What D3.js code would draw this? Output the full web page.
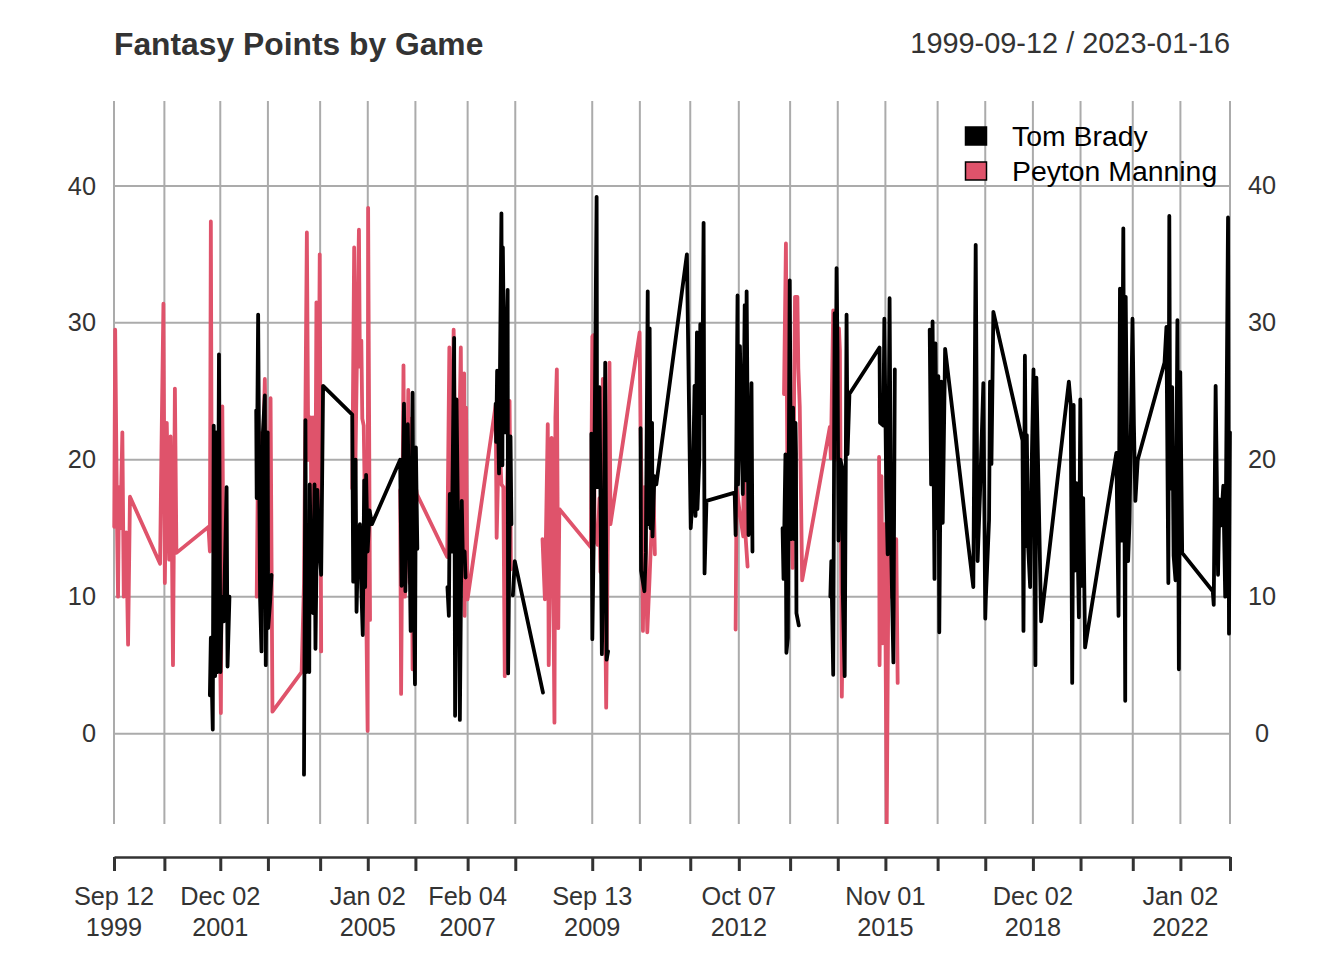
<!DOCTYPE html>
<html>
<head>
<meta charset="utf-8">
<script src="https://cdn.jsdelivr.net/npm/d3@7"></script>
<style>
  html, body { margin: 0; padding: 0; background: #fff; }
  svg { display: block; }
  text { font-family: "Liberation Sans", Arial, sans-serif; }
</style>
</head>
<body>
<div id="chart"></div>
<script>
// Game dates as decimal years, null value = gap in the line
const mannYears = [
  1999.70,1999.72,1999.76,1999.78,1999.80,1999.83,1999.87,1999.90,1999.95,1999.99,2000.03,
  2000.66,2000.69,2000.73,2000.76,2000.80,2000.85,2000.88,2000.91,2000.93,2000.97,2001.00,
  2001.67,2001.70,2001.72,2001.74,2001.79,2001.83,2001.87,2001.93,2001.96,2001.99,2002.00,
  2002.68,2002.70,2002.73,2002.77,2002.81,2002.85,2002.89,2002.94,2002.97,2003.01,
  2003.62,2003.67,2003.73,2003.76,2003.81,2003.83,2003.86,2003.90,2003.93,2003.96,2004.00,2004.03,2004.04,
  2004.68,2004.72,2004.74,2004.78,2004.82,2004.84,2004.87,2004.89,2004.92,2004.96,2005.00,2005.01,2005.05,2005.06,
  2005.68,2005.70,2005.75,2005.78,2005.81,2005.85,2005.88,2005.91,2005.94,2005.97,2006.03,
  2006.665,2006.71,2006.74,2006.80,2006.85,2006.90,2006.95,2006.98,2007.02,2007.03,2007.06,2007.09,
  2007.68,2007.70,2007.75,2007.80,2007.84,2007.87,2007.92,2007.97,2008.00,2008.01,
  2008.66,2008.71,2008.77,2008.79,2008.85,2008.88,2008.91,2008.93,2008.96,2008.99,2009.01,
  2009.67,2009.70,2009.72,2009.75,2009.81,2009.85,2009.87,2009.92,2009.99,2010.06,2010.08,
  2010.69,2010.71,2010.73,2010.76,2010.79,2010.85,2010.90,2010.94,2010.98,2011.01,2011.02,
  2012.70,2012.72,2012.79,2012.86,2012.87,2012.91,2012.95,2012.96,
  2013.71,2013.75,2013.79,2013.84,2013.89,2013.94,2013.99,2014.01,2014.04,2014.09,
  2014.67,2014.69,2014.74,2014.79,2014.86,2014.88,2014.92,2014.96,2014.97,
  2015.70,2015.71,2015.75,2015.77,2015.81,2015.83,2015.86,2015.90,2015.96,2016.06,2016.09
];
const mannPoints = [
  15.1,29.5,15,10,18,15,22,10,14.7,6.5,17.3,
  12.4,21,31.4,11,22.7,12.7,21.7,13,5,25.2,13.2,
  15.1,13.3,37.4,15,21,10,17,1.5,23.9,8.3,null,
  10,17.2,22,13,20,25.9,15,12,24.5,1.6,
  4.5,11,36.6,20,23.1,12,23.1,10,31.5,14,35,6,null,
  17.9,35.5,18,28,36.8,26.8,28.7,23,22.5,13,0.2,38.4,8.3,null,
  17.8,2.9,26.9,10,14,25.1,11,23,4.7,19,17.5,
  12.9,28.2,14,29.5,13,18,28.2,12,26.3,8.6,23.8,9.8,
  24,14.3,22,18.2,18,4.2,18,24.3,12,null,
  14.2,9.8,22.6,5,21.6,13,0.8,23.1,26.6,7.7,16.4,
  13.6,29,29.1,14.3,13.8,17.2,11.8,25.9,1.9,27.1,15.3,
  29.3,22.4,18,7.5,18,7.4,11.5,15,18,13.1,null,
  7.6,18,16,14.4,20.8,14.3,12.2,null,
  24.8,35.8,14,20,12.1,31.9,31.9,26.7,23.9,11.2,
  22.4,20.1,30.9,20,29.6,28,2.7,14,null,
  20.2,5,18.8,6.6,15.3,9.7,-6.6,14,10,14.2,3.7
];

const bradyYears = [
  2001.70,2001.72,2001.76,2001.78,2001.81,2001.83,2001.86,2001.89,2001.92,2001.95,2001.99,2002.05,2002.07,2002.11,2002.12,
  2002.67,2002.68,2002.71,2002.75,2002.78,2002.81,2002.85,2002.87,2002.91,2002.92,2002.96,2002.99,2003.00,
  2003.67,2003.70,2003.72,2003.75,2003.78,2003.79,2003.82,2003.86,2003.89,2003.91,2003.95,2003.99,2004.03,2004.07,
  2004.68,2004.70,2004.75,2004.77,2004.79,2004.84,2004.87,2004.90,2004.93,2004.95,2004.97,2005.00,2005.04,2005.09,
  2005.68,2005.71,2005.76,2005.79,2005.84,2005.90,2005.94,2005.96,2005.99,2006.01,2006.04,2006.05,
  2006.67,2006.70,2006.72,2006.76,2006.81,2006.83,2006.86,2006.90,2006.93,2006.97,2006.99,2007.03,2007.05,2007.06,
  2007.68,2007.69,2007.71,2007.75,2007.80,2007.82,2007.83,2007.87,2007.93,2007.94,2007.99,2008.01,2008.02,
  2008.04,2008.08,2008.67,2008.68,
  2009.68,2009.70,2009.73,2009.79,2009.80,2009.85,2009.90,2009.94,2009.97,2010.00,2010.03,2010.04,
  2010.71,2010.72,2010.79,2010.82,2010.86,2010.87,2010.90,2010.92,2010.95,2010.96,2011.00,2011.04,
  2011.68,2011.76,2011.80,2011.84,2011.86,2011.89,2011.90,2011.94,2011.96,2012.00,2012.03,2012.05,2012.09,
  2012.68,2012.70,2012.74,2012.75,2012.79,2012.85,2012.89,2012.91,2012.93,2012.97,2013.03,2013.05,2013.06,
  2013.68,2013.70,2013.74,2013.76,2013.79,2013.83,2013.86,2013.90,2013.93,2013.95,2013.96,2013.97,2014.02,2014.03,
  2014.68,2014.70,2014.74,2014.77,2014.79,2014.81,2014.83,2014.85,2014.89,2014.93,2014.94,2014.98,2015.02,2015.04,2015.08,
  2015.71,2015.72,2015.79,2015.81,2015.85,2015.88,2015.92,2015.95,2016.00,2016.03,2016.04,
  2016.76,2016.79,2016.82,2016.86,2016.88,2016.92,2016.94,2016.96,2017.00,2017.03,2017.08,
  2017.67,2017.72,2017.76,2017.81,2017.88,2017.92,2017.93,2018.00,2018.02,2018.05,2018.09,
  2018.70,2018.72,2018.75,2018.78,2018.79,2018.82,2018.86,2018.89,2018.93,2018.97,2018.99,2019.09,
  2019.67,2019.71,2019.74,2019.77,2019.79,2019.83,2019.88,2019.91,2019.94,2019.97,2020.01,
  2020.665,2020.71,2020.74,2020.77,2020.81,2020.85,2020.86,2020.91,2020.94,2021.00,2021.03,2021.06,2021.11,
  2021.67,2021.71,2021.75,2021.77,2021.79,2021.83,2021.86,2021.90,2021.94,2021.97,2022.00,2022.04,
  2022.68,2022.70,2022.74,2022.79,2022.82,2022.85,2022.90,2022.94,2023.00,2023.02,2023.04
];
const bradyPoints = [
  2.8,7,0.3,22.5,4.2,22,4.5,27.7,4.5,10,8.2,18,4.9,10,null,
  23.6,17.2,30.6,10,6,22,24.7,5,22,7.7,9.6,11.6,null,
  -3,22.9,4.5,11,4.5,18.2,12,8.8,18.2,6.2,17.8,13.6,11.6,25.4,
  23.3,11.1,20,8.9,12,15.3,10.6,7.2,18.5,10.7,18.9,13.3,16.3,15.3,
  20,10.8,24.1,10.4,22.6,7.5,24.9,12,3.6,20.9,13.5,null,
  10.7,8.6,17.5,13.3,28.9,1.3,24.4,13,1,17,13.2,13.3,11.4,null,
  24.1,21.3,26.5,19,38,19.6,35.5,22,32.4,4.4,21.7,15.3,null,
  10.1,12.6,3,null,
  21.9,6.9,14.4,39.2,18,25.3,5.8,14,27.1,5.4,6,null,
  22.3,11.9,10.4,13.2,32.3,15.3,29.6,15,22.7,14.4,18.8,18.2,
  35,15,17.3,25.4,15.9,29.3,16.4,20.1,29.9,23.4,37.3,11.7,17,
  17.6,14.5,32,18.2,28.3,17.5,31.3,18.5,32.3,14.5,25.6,13.3,null,
  15,11.3,20.4,5.9,7,33.1,14.2,23.8,14.2,22.7,20.5,8.8,7.9,null,
  10,12.6,4.3,30.7,22.5,34,27.9,14.1,20,19.4,10.3,4.2,30.6,20.4,24.8,
  28.2,22.7,22.5,30.3,18,13.1,31.8,14,5.2,26.6,null,
  29.5,18.2,30.1,11.3,28.5,15,26.1,7.4,25.7,15.4,28.1,
  10.7,35.7,12.6,17.5,25.6,8.4,9.7,15.6,25.7,19.7,30.8,
  21.4,7.5,27.6,13.7,21.8,13.5,10.7,19.2,26.6,5,26,8.2,
  25.7,24,3.7,24,11.9,18.3,8.5,24.4,10.8,17.2,6.3,
  20.5,8.6,32.5,14.1,36.9,2.4,31.9,12.6,15.5,30.3,22.5,17,20,
  27.1,29.7,11,37.8,17.9,25.3,13,11.2,30.2,4.7,26.4,13.2,
  10.4,9.4,25.4,11.6,17.1,15.2,18.1,10,37.7,7.3,22
];

const seriesNames = ["Tom Brady", "Peyton Manning"];
const seriesColors = ["#000000", "#DF536B"];

const yTicks = [0, 10, 20, 30, 40];
const xTickDates = [
  "1999-09-12","2000-10-01","2001-12-02","2002-12-01","2004-01-04","2005-01-02","2006-01-01",
  "2007-02-04","2008-02-03","2009-09-13","2010-09-12","2011-10-02","2012-10-07","2013-11-03",
  "2014-11-02","2015-11-01","2016-12-04","2017-12-03","2018-12-02","2019-12-01","2021-01-03",
  "2022-01-02","2023-01-16"
];
const xLabels = {
  "1999-09-12": ["Sep 12", "1999"],
  "2001-12-02": ["Dec 02", "2001"],
  "2005-01-02": ["Jan 02", "2005"],
  "2007-02-04": ["Feb 04", "2007"],
  "2009-09-13": ["Sep 13", "2009"],
  "2012-10-07": ["Oct 07", "2012"],
  "2015-11-01": ["Nov 01", "2015"],
  "2018-12-02": ["Dec 02", "2018"],
  "2022-01-02": ["Jan 02", "2022"]
};

const width = 1344;
const height = 960;
const plotLeft = 114, plotRight = 1230, plotTop = 101, plotBottom = 824;
const axisY = 857;
const gridColor = "#ababab";
const textColor = "#333333";

function yearToDate(y) {
  const whole = Math.floor(y);
  return new Date(Date.UTC(whole, 0, 1) + (y - whole) * 365.25 * 864e5);
}

const xScale = d3.scaleUtc()
  .domain([new Date("1999-09-12"), new Date("2023-01-16")])
  .range([plotLeft, plotRight]);

const yScale = d3.scaleLinear()
  .domain([-6.6, 46.2])
  .range([plotBottom, plotTop]);

const svg = d3.select("#chart").append("svg")
  .attr("width", width)
  .attr("height", height);

// Grid
svg.append("g").selectAll("line").data(yTicks).join("line")
  .attr("x1", plotLeft).attr("x2", plotRight)
  .attr("y1", d => yScale(d)).attr("y2", d => yScale(d))
  .attr("stroke", gridColor).attr("stroke-width", 2);

svg.append("g").selectAll("line").data(xTickDates).join("line")
  .attr("x1", d => xScale(new Date(d))).attr("x2", d => xScale(new Date(d)))
  .attr("y1", plotTop).attr("y2", plotBottom)
  .attr("stroke", gridColor).attr("stroke-width", 2);

// Series, Manning under Brady
svg.append("defs").append("clipPath").attr("id", "plot-clip")
  .append("rect").attr("x", plotLeft - 2).attr("y", plotTop).attr("width", plotRight - plotLeft + 4).attr("height", plotBottom - plotTop);

function drawSeries(years, points, color) {
  const rows = years.map((y, i) => ({ date: yearToDate(y), value: points[i] }));
  const line = d3.line()
    .defined(d => d.value !== null)
    .x(d => xScale(d.date))
    .y(d => yScale(d.value));
  svg.append("path")
    .datum(rows)
    .attr("d", line)
    .attr("fill", "none")
    .attr("stroke", color)
    .attr("stroke-width", 3.8)
    .attr("stroke-linejoin", "round")
    .attr("stroke-linecap", "round")
    .attr("clip-path", "url(#plot-clip)");
}
drawSeries(mannYears, mannPoints, seriesColors[1]);
drawSeries(bradyYears, bradyPoints, seriesColors[0]);

// Y labels on both sides
const leftAxis = svg.append("g")
  .attr("transform", `translate(${plotLeft},0)`)
  .call(d3.axisLeft(yScale).tickValues(yTicks).tickSize(0).tickPadding(18));
leftAxis.select(".domain").remove();
leftAxis.selectAll("text").attr("fill", textColor).style("font-size", "25.3px").style("font-family", '"Liberation Sans"');

svg.append("g").selectAll("text").data(yTicks).join("text")
  .attr("x", 1262)
  .attr("y", d => yScale(d))
  .attr("dy", "0.32em")
  .attr("text-anchor", "middle")
  .attr("fill", textColor)
  .style("font-size", "25.3px")
  .text(d => d);

// X axis
const bottomAxis = svg.append("g")
  .attr("transform", `translate(0,${axisY})`)
  .call(d3.axisBottom(xScale)
    .tickValues(xTickDates.map(d => new Date(d)))
    .tickSize(14)
    .tickSizeOuter(0)
    .tickFormat(""));
bottomAxis.select(".domain").attr("stroke", textColor).attr("stroke-width", 2.5);
bottomAxis.selectAll(".tick line").attr("stroke", textColor).attr("stroke-width", 3);

const labelGroup = svg.append("g");
xTickDates.filter(d => xLabels[d]).forEach(d => {
  const t = labelGroup.append("text")
    .attr("text-anchor", "middle")
    .attr("fill", textColor)
    .style("font-size", "25.3px");
  t.append("tspan").attr("x", xScale(new Date(d))).attr("y", 905).text(xLabels[d][0]);
  t.append("tspan").attr("x", xScale(new Date(d))).attr("y", 936).text(xLabels[d][1]);
});

// Title and range
svg.append("text")
  .attr("x", plotLeft).attr("y", 55)
  .attr("fill", textColor)
  .style("font-size", "31.8px").style("font-weight", "bold")
  .text("Fantasy Points by Game");

svg.append("text")
  .attr("x", plotRight).attr("y", 53)
  .attr("text-anchor", "end")
  .attr("fill", textColor)
  .style("font-size", "28.9px")
  .text("1999-09-12 / 2023-01-16");

// Legend
const legendY = d3.scalePoint().domain(seriesNames).range([136, 171]);
const legend = svg.append("g");
legend.selectAll("rect").data(seriesNames).join("rect")
  .attr("x", 965.5)
  .attr("y", d => legendY(d) - 9)
  .attr("width", 21)
  .attr("height", 18)
  .attr("fill", (d, i) => seriesColors[i])
  .attr("stroke", "#000")
  .attr("stroke-width", 1.5);
legend.selectAll("text").data(seriesNames).join("text")
  .attr("x", 1012)
  .attr("y", d => legendY(d) + 10)
  .attr("fill", "#000")
  .style("font-size", "28.4px")
  .text(d => d);
</script>
</body>
</html>
